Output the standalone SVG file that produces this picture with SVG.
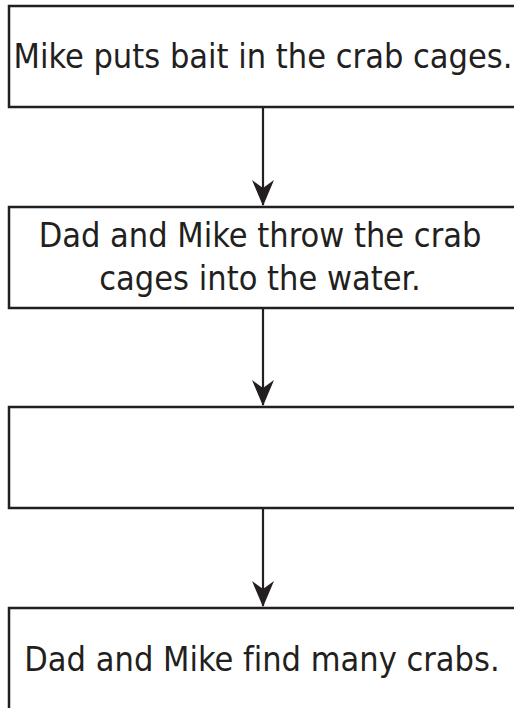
<svg xmlns="http://www.w3.org/2000/svg" width="514" height="708" viewBox="0 0 514 708">
<style>
.box{fill:#fff;stroke:#231f20;stroke-width:2.5}
.lbl{font-family:"DejaVu Sans Condensed","DejaVu Sans",sans-serif;font-size:34px;fill:#231f20;text-anchor:middle;font-variant-ligatures:none}
.conn{stroke:#231f20;stroke-width:2.2;fill:none}
</style>
<defs>
<marker id="ah" markerUnits="userSpaceOnUse" viewBox="0 0 26 22" refX="25" refY="11" markerWidth="26" markerHeight="22" orient="auto">
<path d="M0,0 L26,11 L0,22 L8,11 Z" fill="#231f20"/>
</marker>
</defs>
<rect width="514" height="708" fill="#fff"/>
<g id="connectors">
<line class="conn" x1="263" y1="108" x2="263" y2="205" marker-end="url(#ah)"/>
<line class="conn" x1="263" y1="308" x2="263" y2="405" marker-end="url(#ah)"/>
<line class="conn" x1="263" y1="509" x2="263" y2="606" marker-end="url(#ah)"/>
</g>
<g id="node1">
<rect class="box" x="9" y="6" width="510" height="101"/>
<text class="lbl" x="263" y="68">Mike puts bait in the crab cages.</text>
</g>
<g id="node2">
<rect class="box" x="9" y="207" width="510" height="101"/>
<text class="lbl" x="260" y="247">Dad and Mike throw the crab</text>
<text class="lbl" x="260" y="290">cages into the water.</text>
</g>
<g id="node3">
<rect class="box" x="9" y="407" width="510" height="101"/>
</g>
<g id="node4">
<rect class="box" x="9" y="608" width="510" height="120"/>
<text class="lbl" x="262" y="671">Dad and Mike find many crabs.</text>
</g>
</svg>
